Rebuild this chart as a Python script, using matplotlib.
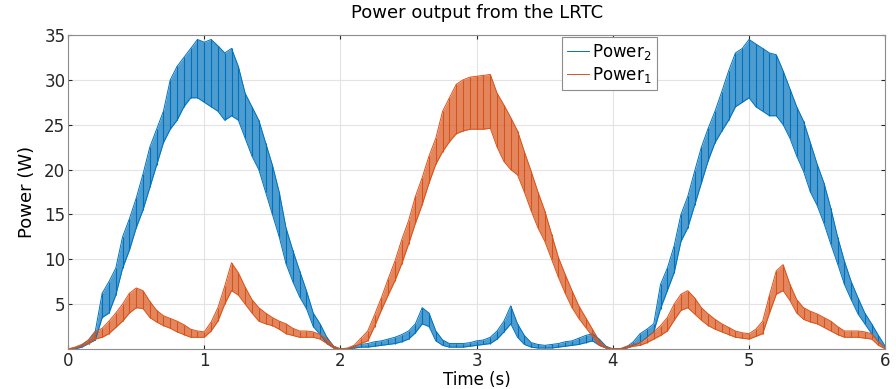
import numpy as np
import matplotlib
matplotlib.use('Agg')
import matplotlib.pyplot as plt

# sampling grid, 0.05 s from 0 to 6 s
time_s = np.round(np.arange(121) * 0.05, 2)

# Power_2 (blue) - upper / lower envelope of the oscillation
p2_upper = [0, 0.1, 0.4, 1.0, 2.0, 6.2, 7.5, 9.0, 12.5, 14.5,
            16.8, 19.5, 22.5, 24.5, 26.5, 30.0, 31.5, 32.5, 33.5, 34.5,
            34.2, 34.5, 33.8, 33.0, 33.5, 31.5, 28.5, 27.0, 25.5, 23.0,
            20.5, 17.5, 13.5, 11.0, 8.7, 6.5, 4.0, 2.8, 1.3, 0.3,
            0, 0, 0.3, 0.5, 0.6, 0.8, 0.9, 1.1, 1.3, 1.6,
            2.0, 2.8, 4.6, 4.0, 2.0, 1.0, 0.6, 0.6, 0.6, 0.7,
            0.9, 1.0, 1.3, 2.0, 3.1, 4.8, 2.8, 1.5, 0.7, 0.5,
            0.4, 0.5, 0.6, 0.8, 0.9, 1.2, 1.5, 1.7, 1.1, 0.3,
            0, 0, 0.2, 0.8, 1.7, 2.2, 2.8, 7.2, 9.0, 11.5,
            15.0, 17.0, 19.8, 22.5, 24.6, 26.5, 28.7, 31.0, 33.0, 33.5,
            34.5, 34.0, 33.5, 33.0, 32.8, 31.0, 29.0, 27.0, 25.4, 23.0,
            20.6, 18.5, 15.7, 12.5, 9.8, 7.5, 5.7, 4.0, 2.8, 1.5,
            0.3]
p2_lower = [0, 0, 0.2, 0.6, 1.0, 3.5, 4.0, 6.0, 9.0, 11.0,
            13.5, 15.5, 18.0, 20.5, 23.0, 24.5, 25.5, 27.0, 28.0, 28.0,
            27.5, 27.0, 26.5, 25.5, 26.0, 25.5, 23.5, 21.5, 20.0, 17.5,
            15.0, 12.5, 9.5, 7.5, 5.8, 4.5, 2.5, 1.6, 0.6, 0.1,
            0, 0, 0.1, 0.2, 0.2, 0.3, 0.4, 0.5, 0.6, 0.8,
            1.1, 1.8, 2.8, 2.5, 0.9, 0.4, 0.2, 0.2, 0.2, 0.3,
            0.4, 0.5, 0.6, 1.1, 1.9, 2.8, 1.3, 0.5, 0.2, 0.1,
            0.1, 0.1, 0.2, 0.3, 0.4, 0.5, 0.7, 0.9, 0.4, 0.1,
            0, 0, 0.1, 0.4, 0.7, 1.3, 1.9, 4.5, 6.5, 8.5,
            12.0, 13.5, 16.0, 18.5, 21.0, 23.0, 24.3, 25.5, 27.0, 27.5,
            28.0, 27.0, 26.5, 26.0, 26.0, 25.0, 23.5, 21.5, 19.8, 17.5,
            16.0, 14.0, 11.7, 9.5, 7.2, 5.5, 3.9, 2.8, 1.7, 0.8,
            0.1]

# Power_1 (orange)
p1_upper = [0, 0.2, 0.5, 1.0, 1.9, 2.3, 3.1, 4.0, 5.0, 6.2,
            6.8, 6.5, 5.3, 4.3, 3.7, 3.4, 3.1, 2.7, 2.2, 2.0,
            1.9, 3.0, 4.6, 7.0, 9.6, 8.5, 6.9, 5.5, 4.6, 4.0,
            3.5, 3.1, 2.8, 2.3, 2.0, 2.0, 1.9, 1.6, 1.1, 0.3,
            0, 0.1, 0.4, 1.2, 2.0, 3.8, 5.7, 7.8, 9.8, 12.2,
            14.3, 17.0, 19.1, 21.5, 23.5, 26.5, 28.0, 29.5, 30.0, 30.3,
            30.4, 30.5, 30.6, 28.5, 27.2, 25.8, 24.3, 22.0, 19.8, 17.5,
            15.4, 12.8, 10.2, 8.3, 6.5, 4.8, 3.5, 2.2, 0.9, 0.2,
            0, 0, 0.3, 0.5, 0.7, 1.2, 1.9, 2.6, 3.5, 5.0,
            6.1, 6.5, 5.7, 4.6, 3.9, 3.3, 2.8, 2.4, 2.0, 1.8,
            1.7, 2.2, 3.1, 6.0, 8.7, 9.4, 7.2, 5.5, 4.6, 4.2,
            3.9, 3.5, 3.1, 2.5, 2.0, 2.0, 2.0, 1.9, 1.7, 0.8,
            0.1]
p1_lower = [0, 0.1, 0.3, 0.6, 1.1, 1.3, 1.7, 2.4, 3.1, 4.0,
            4.6, 4.5, 3.5, 3.0, 2.6, 2.3, 1.9, 1.6, 1.3, 1.3,
            1.3, 2.0, 3.1, 5.0, 6.5, 6.0, 5.0, 4.0, 3.1, 2.8,
            2.6, 2.2, 1.7, 1.5, 1.3, 1.3, 1.3, 1.1, 0.6, 0.1,
            0, 0, 0.2, 0.6, 0.9, 2.5, 4.3, 6.0, 7.6, 9.5,
            11.7, 14.0, 16.1, 18.5, 20.6, 22.0, 23.1, 24.0, 24.3, 24.5,
            24.5, 24.5, 24.6, 22.5, 20.9, 20.0, 19.4, 17.5, 15.4, 13.5,
            12.0, 10.0, 8.0, 6.2, 4.6, 3.4, 2.4, 1.4, 0.4, 0.1,
            0, 0, 0.1, 0.3, 0.4, 0.7, 1.1, 1.5, 2.0, 3.2,
            4.3, 4.6, 3.9, 3.2, 2.6, 2.2, 1.9, 1.6, 1.3, 1.2,
            1.1, 1.4, 1.7, 4.0, 6.1, 6.5, 5.4, 4.0, 3.3, 3.0,
            2.8, 2.4, 2.0, 1.6, 1.3, 1.3, 1.3, 1.2, 1.1, 0.4,
            0]

blue = '#0072BD'
orange = '#D95319'

fig, ax = plt.subplots(figsize=(8.96, 3.89), dpi=100)
fig.subplots_adjust(left=0.076, right=0.988, bottom=0.103, top=0.91)

for lo, hi, col, lab in [(p2_lower, p2_upper, blue, 'Power$_2$'),
                         (p1_lower, p1_upper, orange, 'Power$_1$')]:
    ax.fill_between(time_s, lo, hi, color=col, alpha=0.7, lw=0)
    # thin strokes at every sample for the oscillation texture
    ax.vlines(time_s, lo, hi, color=col, lw=0.8)
    ax.plot(time_s, hi, color=col, lw=0.7, label=lab)
    ax.plot(time_s, lo, color=col, lw=0.7)

ax.set_xlim(0, 6)
ax.set_ylim(0, 35)
ax.set_xticks(range(7))
ax.set_yticks([5, 10, 15, 20, 25, 30, 35])
ax.tick_params(direction='in', length=3, labelsize=12, colors='#262626',
               top=True, right=True, pad=2)
ax.grid(True, color='#e3e3e3', lw=0.8)
ax.set_axisbelow(True)
for s in ax.spines.values():
    s.set_color('#8c8c8c')
    s.set_linewidth(0.8)

ax.set_title('Power output from the LRTC', fontsize=13, pad=12)
ax.set_xlabel('Time (s)', fontsize=12)
ax.xaxis.set_label_coords(0.5, -0.07)
ax.set_ylabel('Power (W)', fontsize=13, labelpad=6)

leg = ax.legend(loc='upper left', bbox_to_anchor=(0.605, 0.995), fontsize=12,
                fancybox=False, framealpha=1, edgecolor='#8c8c8c',
                handlelength=1.3, handletextpad=0.2, borderpad=0.3,
                labelspacing=0.2, borderaxespad=0.0)
leg.get_frame().set_linewidth(0.8)

plt.savefig('out.png')
